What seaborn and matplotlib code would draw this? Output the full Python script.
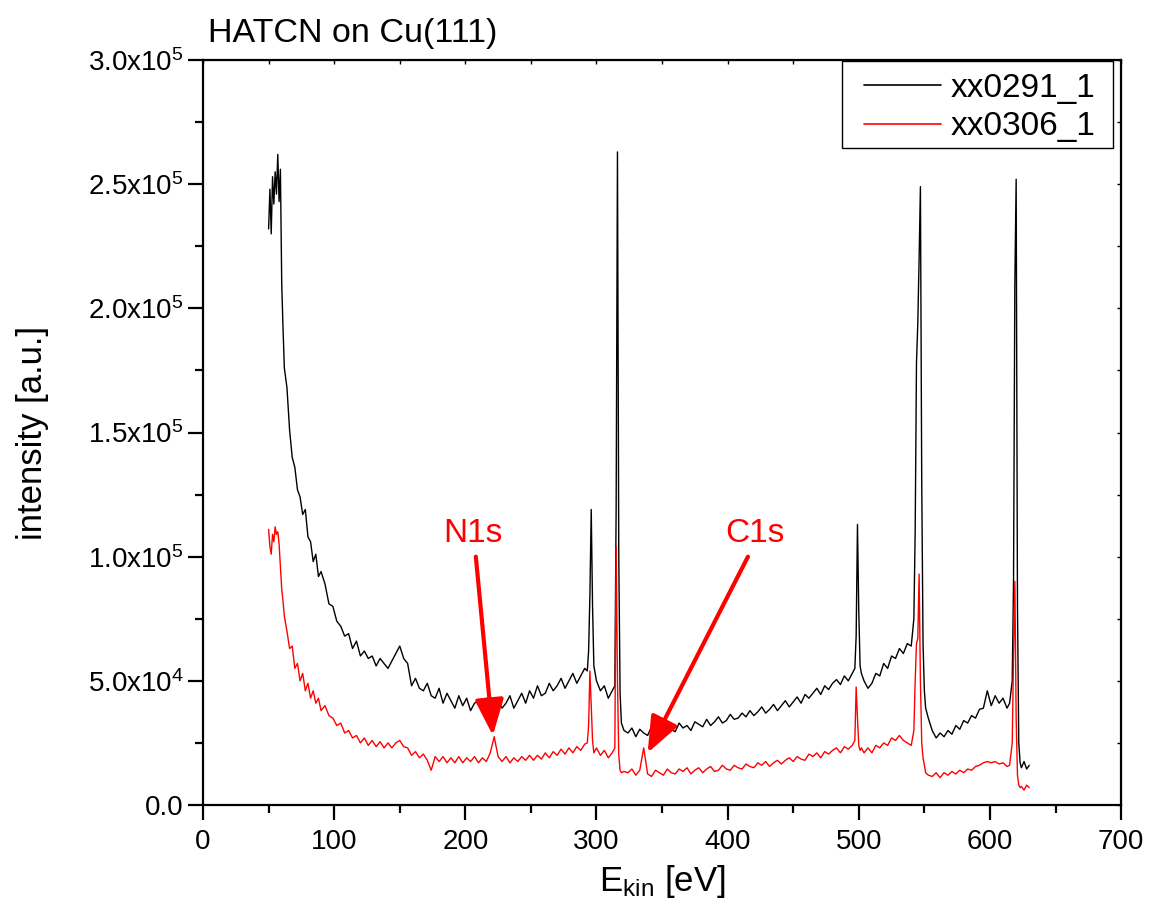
import numpy as np
import pandas as pd
import matplotlib
matplotlib.use('Agg')
import matplotlib.pyplot as plt
import seaborn as sns
from matplotlib.ticker import MultipleLocator, FuncFormatter
from matplotlib.patches import Rectangle

# kinetic energy grid [eV] (finer steps around the core-level / Auger peaks)
energy = [
    50, 51, 52, 53, 54, 55, 56, 57, 58, 59, 60, 61, 62,
    64, 66, 68, 70, 72, 74, 76, 78, 80, 82, 84, 86, 88, 90,
    93, 96, 99, 102, 105, 108, 111, 114, 117, 120,
    123, 126, 129, 132, 135, 138, 141, 144, 147, 150,
    153, 156, 159, 162, 165, 168, 171, 174, 177, 180,
    183, 186, 189, 192, 195, 198, 201, 204, 207, 210,
    213, 216, 219, 222, 225, 228, 231, 234, 237, 240,
    243, 246, 249, 252, 255, 258, 261, 264, 267, 270,
    273, 276, 279, 282, 285, 288, 291,
    293, 294, 295, 296, 297, 298, 300, 303, 306, 309, 312,
    314, 315, 316, 317, 318, 319, 321,
    324, 327, 330, 333, 336, 339, 342, 345, 348, 351,
    354, 357, 360, 363, 366, 369, 372, 375, 378, 381,
    384, 387, 390, 393, 396, 399, 402, 405, 408, 411,
    414, 417, 420, 423, 426, 429, 432, 435, 438, 441,
    444, 447, 450, 453, 456, 459, 462, 465, 468, 471,
    474, 477, 480, 483, 486, 489, 492, 495,
    497, 498, 499, 500, 501, 502, 504,
    507, 510, 513, 516, 519, 522, 525, 528, 531, 534, 537, 540,
    542, 543, 544, 545, 546, 547, 548, 549, 550, 551, 553,
    556, 559, 562, 565, 568, 571, 574, 577, 580, 583,
    586, 589, 592, 595, 598, 601, 604, 607, 610, 613,
    615, 617, 618, 619, 620, 621, 622, 623,
    624, 626, 628, 630,
]

# xx0291_1 intensity, in units of 1e4
xx0291 = [
    23.2, 24.8, 23.0, 25.3, 24.2, 25.5, 24.6, 26.2, 24.3, 25.6, 21.0, 19.2, 17.6,
    16.8, 15.1, 14.0, 13.6, 12.7, 12.4, 11.7, 11.9, 10.8, 10.6, 9.8, 10.1, 9.2, 9.4,
    8.9, 8.1, 8.0, 7.4, 7.2, 6.8, 6.9, 6.3, 6.6, 6.0,
    6.2, 5.9, 6.0, 5.6, 5.9, 5.7, 5.5, 5.8, 6.1, 6.4,
    5.9, 5.7, 4.8, 5.1, 4.7, 4.6, 4.9, 4.4, 4.3, 4.7,
    4.1, 4.5, 4.2, 3.9, 4.4, 4.0, 4.3, 3.8, 4.1, 4.2,
    3.8, 4.3, 4.0, 3.8, 4.2, 3.9, 4.1, 4.4, 3.9, 4.2,
    4.5, 4.1, 4.6, 4.3, 4.8, 4.4, 4.5, 4.9, 4.6, 4.8,
    5.1, 4.7, 5.0, 5.3, 4.9, 5.2, 5.5,
    5.4, 6.2, 8.5, 11.9, 8.0, 5.6, 5.0, 4.6, 4.8, 4.3, 4.6,
    4.8, 12.0, 26.3, 10.0, 4.5, 3.3, 3.0,
    2.9, 3.1, 2.75, 3.05, 2.9, 2.8, 3.15, 2.95, 3.1, 2.85,
    3.2, 3.05, 2.95, 3.3, 3.1, 3.2, 3.0, 3.35, 3.25, 3.15,
    3.45, 3.2, 3.35, 3.55, 3.3, 3.4, 3.65, 3.45, 3.5, 3.7,
    3.55, 3.8, 3.6, 3.75, 3.95, 3.7, 3.85, 4.05, 3.8, 4.0,
    4.2, 3.95, 4.15, 4.35, 4.1, 4.45, 4.3, 4.5, 4.7, 4.45,
    4.8, 4.65, 4.9, 5.05, 4.85, 5.2, 5.0, 5.3,
    5.5, 6.8, 11.3, 7.8, 5.6, 5.3, 5.0,
    4.7, 4.9, 5.3, 5.2, 5.7, 5.5, 6.0, 5.9, 6.3, 6.1, 6.5, 6.4,
    7.5, 11.0, 17.8, 19.4, 22.0, 24.9, 13.0, 6.5, 4.6, 3.9, 3.5,
    3.0, 2.7, 2.9, 2.75, 3.0, 2.85, 3.2, 3.05, 3.4, 3.3,
    3.6, 3.5, 3.85, 3.9, 4.6, 4.0, 4.4, 4.1, 4.3, 3.9,
    4.1, 5.0, 9.0, 21.0, 25.2, 8.0, 2.5, 1.7,
    1.5, 1.75, 1.45, 1.6,
]

# xx0306_1 intensity, in units of 1e4
xx0306 = [
    11.1, 10.4, 10.1, 10.9, 10.6, 11.2, 10.9, 11.0, 10.5, 9.6, 8.7, 8.2, 7.6,
    7.0, 6.3, 6.4, 5.5, 5.7, 5.0, 5.3, 4.6, 4.9, 4.3, 4.6, 4.1, 4.3, 3.8,
    4.0, 3.6, 3.5, 3.2, 3.3, 2.9, 3.0, 2.7, 2.8, 2.5,
    2.7, 2.4, 2.6, 2.35, 2.55, 2.3, 2.5, 2.3, 2.5, 2.6,
    2.35, 2.3, 2.0, 2.15, 1.9, 2.05, 1.8, 1.4, 1.95, 1.75,
    1.95, 1.7, 1.9, 1.7, 1.95, 1.7, 1.9, 1.75, 1.95, 1.7,
    1.9, 1.75, 2.1, 2.75, 1.95, 1.75, 1.95, 1.7, 1.9, 1.75,
    1.95, 1.8, 2.0, 1.8, 2.0, 1.85, 2.1, 1.9, 2.15, 2.0,
    2.25, 2.05, 2.3, 2.1, 2.35, 2.2, 2.45,
    2.5, 3.2, 5.4, 4.0, 2.6, 2.1, 2.3, 2.0, 2.2, 1.9, 2.1,
    2.3, 10.4, 5.0, 2.0, 1.4, 1.3, 1.35,
    1.3, 1.45, 1.2, 1.4, 2.3, 1.25, 1.15, 1.4, 1.3, 1.2,
    1.45, 1.3, 1.25, 1.45, 1.35, 1.5, 1.25, 1.4, 1.5, 1.3,
    1.45, 1.55, 1.35, 1.4, 1.6, 1.45, 1.4, 1.6, 1.5, 1.45,
    1.65, 1.55, 1.5, 1.7, 1.6, 1.75, 1.55, 1.7, 1.8, 1.65,
    1.8, 1.9, 1.75, 1.95, 1.85, 1.8, 2.05, 1.95, 2.1, 1.9,
    2.15, 2.05, 2.2, 2.3, 2.1, 2.35, 2.25, 2.4,
    2.6, 4.75, 3.5, 2.4, 2.2, 2.3, 2.1,
    2.3, 2.1, 2.4, 2.3, 2.5, 2.4, 2.7, 2.6, 2.8, 2.6, 2.5, 2.4,
    3.0, 5.0, 6.5, 6.7, 9.3, 5.0, 2.5, 1.9, 1.6, 1.3, 1.2,
    1.15, 1.3, 1.1, 1.3, 1.2, 1.35, 1.25, 1.4, 1.3, 1.45,
    1.4, 1.55, 1.6, 1.7, 1.75, 1.7, 1.75, 1.65, 1.7, 1.55,
    1.6, 2.5, 6.0, 9.0, 3.5, 1.2, 0.8, 0.7,
    0.75, 0.6, 0.8, 0.7,
]

scans = ['xx0291_1', 'xx0306_1']
assert len(energy) == len(xx0291) == len(xx0306)

df = pd.DataFrame({
    'energy': energy + energy,
    'intensity': np.array(xx0291 + xx0306) * 1e4,
    'scan': [scans[0]] * len(energy) + [scans[1]] * len(energy),
})

sns.set_style('ticks')
plt.rcParams['font.family'] = ['Liberation Sans', 'DejaVu Sans']
plt.rcParams['mathtext.fontset'] = 'custom'
plt.rcParams['mathtext.rm'] = 'Liberation Sans'
plt.rcParams['mathtext.it'] = 'Liberation Sans:italic'
plt.rcParams['text.color'] = 'black'
plt.rcParams['axes.labelcolor'] = 'black'
plt.rcParams['xtick.color'] = 'black'
plt.rcParams['ytick.color'] = 'black'

fig = plt.figure(figsize=(11.49, 9.22), dpi=100)
ax = fig.add_axes([0.1767, 0.1269, 0.7990, 0.8080])

sns.lineplot(data=df, x='energy', y='intensity', hue='scan', palette=['black', 'red'],
             estimator=None, sort=False, lw=1.0, ax=ax)

ax.set_xlim(0, 700)
ax.set_ylim(0, 3.0e5)
ax.xaxis.set_major_locator(MultipleLocator(100))
ax.xaxis.set_minor_locator(MultipleLocator(50))
ax.yaxis.set_major_locator(MultipleLocator(0.5e5))
ax.yaxis.set_minor_locator(MultipleLocator(0.25e5))


def sci_label(v, pos):
    # Origin style: 5.0x10^4, 1.0x10^5 ...
    if v <= 0:
        return '0.0'
    e = int(np.floor(np.log10(v) + 1e-9))
    return r'$\mathregular{%.1fx10^{%d}}$' % (v / 10 ** e, e)


ax.yaxis.set_major_formatter(FuncFormatter(sci_label))

for s in ax.spines.values():
    s.set_visible(True)
    s.set_linewidth(1.6)
    s.set_color('black')
ax.tick_params(which='major', direction='out', length=11, width=1.6, labelsize=20,
               colors='black')
ax.tick_params(axis='x', which='major', pad=6)
ax.tick_params(axis='y', which='major', pad=3)
ax.tick_params(which='minor', direction='out', length=6, width=1.6)

# small inward ticks on top and right
top = ax.secondary_xaxis('top')
top.xaxis.set_major_locator(MultipleLocator(50))
top.tick_params(direction='in', length=3, width=1, labeltop=False)
right = ax.secondary_yaxis('right')
right.yaxis.set_major_locator(MultipleLocator(0.25e5))
right.tick_params(direction='in', length=3, width=1, labelright=False)

ax.set_xlabel(r'$\mathregular{E_{kin}}$ [eV]', fontsize=25, labelpad=6)
ax.set_ylabel('intensity [a.u.]', fontsize=25, labelpad=28)
ax.set_title('HATCN on Cu(111)', loc='left', fontsize=24.5, pad=13, x=0.005)

# peak markers
ax.text(206, 1.095e5, 'N1s', color='red', fontsize=24, ha='center', va='center')
ax.annotate('', xy=(221, 0.28e5), xytext=(208, 1.0e5),
            arrowprops=dict(arrowstyle='-|>,head_length=1.0,head_width=0.4', color='red',
                            lw=3, mutation_scale=22, shrinkA=0, shrinkB=0))
ax.text(421, 1.095e5, 'C1s', color='red', fontsize=24, ha='center', va='center')
ax.annotate('', xy=(339, 0.21e5), xytext=(415.5, 1.0e5),
            arrowprops=dict(arrowstyle='-|>,head_length=1.0,head_width=0.4', color='red',
                            lw=3, mutation_scale=22, shrinkA=0, shrinkB=0))

# Origin-like legend box: frame drawn separately so the padding can be wider than tall
ax.add_patch(Rectangle((0.696, 0.882), 0.2953, 0.117, transform=ax.transAxes,
                       facecolor='white', edgecolor='black', lw=1.0, zorder=4))
leg = ax.legend(loc='upper left', bbox_to_anchor=(0.720, 0.983), borderaxespad=0,
                borderpad=0, fontsize=24, handlelength=2.3, handletextpad=0.3,
                labelspacing=0.23, frameon=False, title=None)
leg.set_zorder(5)
for line in leg.get_lines():
    line.set_linewidth(1.2)

plt.savefig('out.png', dpi=100)
